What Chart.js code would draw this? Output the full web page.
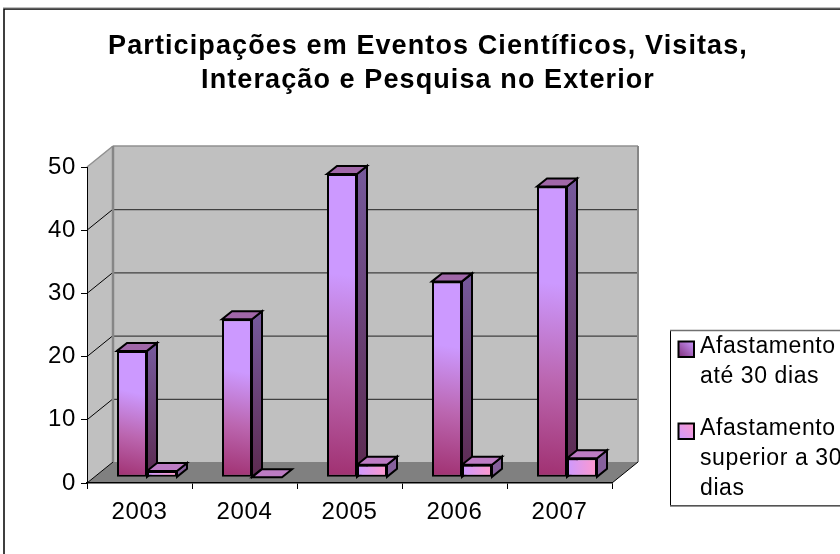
<!DOCTYPE html>
<html lang="pt">
<head>
<meta charset="utf-8">
<style>
html,body{margin:0;padding:0;width:840px;height:554px;overflow:hidden;background:#fff}
canvas{display:block}
</style>
<script src="https://cdn.jsdelivr.net/npm/chart.js@4/dist/chart.umd.js"></script>
</head>
<body>
<canvas id="c" width="856" height="554" style="width:856px;height:554px"></canvas>
<script>
const categories = ["2003","2004","2005","2006","2007"];
const seriesUp30 = [20,25,48,31,46];
const seriesOver30 = [1,0,2,2,3];
const seriesNames = ["Afastamento até 30 dias","Afastamento superior a 30 dias"];
const legendLines = [["Afastamento","até 30 dias"],["Afastamento","superior a 30","dias"]];
const titleLines = ["Participações em Eventos Científicos, Visitas,","Interação e Pesquisa no Exterior"];
const yTicks = [0,10,20,30,40,50];

const FONT = '"Liberation Sans", Arial, sans-serif';
const WALL_DX = 26, WALL_DY = 21, BAR_DX = 10, BAR_DY = 8, SHIFT_X = 7.5, SHIFT_Y = -5.7;

function poly(ctx, pts, fill, stroke, lw){
  ctx.beginPath();
  pts.forEach((p,i)=> i ? ctx.lineTo(p[0],p[1]) : ctx.moveTo(p[0],p[1]));
  ctx.closePath();
  if(fill){ctx.fillStyle=fill;ctx.fill();}
  if(stroke){ctx.strokeStyle=stroke;ctx.lineWidth=lw||1;ctx.lineJoin='miter';ctx.stroke();}
}
function line(ctx,x0,y0,x1,y1,color,lw){
  ctx.beginPath();ctx.moveTo(x0,y0);ctx.lineTo(x1,y1);ctx.strokeStyle=color;ctx.lineWidth=lw;ctx.stroke();
}
function grad(ctx,x0,y0,x1,y1,stops){
  const g=ctx.createLinearGradient(x0,y0,x1,y1);
  stops.forEach((s,i)=>g.addColorStop(i/(stops.length-1),s));
  return g;
}

const frontFill = (c)=>{
  if(c.type!=='data') return '#cc99ff';
  const ch=c.chart, y=ch.scales.y, x=ch.scales.x;
  if(!x||!y) return '#cc99ff';
  const cx=x.getPixelForValue(c.dataIndex), top=y.getPixelForValue(c.raw), bot=y.getPixelForValue(0);
  if(![cx,top,bot].every(Number.isFinite)) return '#cc99ff';
  if(c.datasetIndex===0) return grad(ch.ctx,cx-30,bot,cx,top,['#a03070','#bb66b0','#cc99ff','#cc99ff']);
  return grad(ch.ctx,cx,0,cx+30,0,['#cc99ff','#ff99cc']);
};

function drawBack(ctx,b,dark){
  const l=b.x-b.width/2, r=b.x+b.width/2, t=b.y, bs=b.base;
  if(bs-t>0.5){
    poly(ctx,[[r,t],[r+BAR_DX,t-BAR_DY],[r+BAR_DX,bs-BAR_DY],[r,bs]],
      dark?grad(ctx,0,bs,0,t,['#5c2a50','#75589a']):'#86609c','#000',2);
  }
  poly(ctx,[[l,t],[l+BAR_DX,t-BAR_DY],[r+BAR_DX,t-BAR_DY],[r,t]],
    dark?'#a067a8':'#bd7cc4','#000',2);
}

const scene3d = {
  id:'scene3d',
  beforeDraw(chart){
    const {ctx,scales:{x,y},chartArea:a}=chart;
    if(chart.titleBlock && !chart.titleBlock._spaced){
      const tb=chart.titleBlock, orig=tb.draw;
      tb.draw=function(){ctx.save();ctx.letterSpacing='1.1px';orig.call(tb);ctx.restore();};
      tb._spaced=true;
    }
    ctx.letterSpacing='0.6px';
    ctx.save();
    ctx.fillStyle='#fff';ctx.fillRect(0,0,chart.width,chart.height);
    // outer frame
    ctx.strokeStyle='#000';ctx.lineWidth=1.5;
    ctx.strokeRect(4,9,chart.width+20,chart.height+20);
    line(ctx,3,8,chart.width,8,'#808080',1);
    const L=a.left,R=x.right,T=y.getPixelForValue(50),B=y.getPixelForValue(0);
    const bL=L+WALL_DX,bR=R+WALL_DX,bT=T-WALL_DY,bB=B-WALL_DY;
    // back + side walls
    ctx.fillStyle='#c0c0c0';ctx.fillRect(bL,bT,bR-bL,bB-bT);
    poly(ctx,[[L,T],[bL,bT],[bL,bB],[L,B]],'#c0c0c0');
    poly(ctx,[[L,B],[bL,bB],[bR,bB],[R,B]],'#808080');
    // gridlines on the back wall and side wall
    yTicks.forEach(v=>{
      const py=y.getPixelForValue(v);
      if(v>0&&v<50) line(ctx,bL,py-WALL_DY+.5,bR,py-WALL_DY+.5,'#404040',1.3);
      if(v<50) line(ctx,L,py,bL,py-WALL_DY,'#000',1);
    });
    line(ctx,L,T,bL,bT,'#909090',1.5);
    line(ctx,bL,bT,bR,bT,'#909090',1.5);
    line(ctx,bL,bT,bL,bB,'#868686',2.5);
    line(ctx,bR,bT,bR,bB,'#868686',2);
    line(ctx,R,B,bR,bB,'#000',1);
    ctx.restore();
  },
  beforeDatasetsDraw(chart){
    const ctx=chart.ctx;
    ctx.save();
    ctx.translate(SHIFT_X,SHIFT_Y);
    // first series' side and top go first, so the second series' bars sit in front
    chart.getDatasetMeta(0).data.forEach(b=>drawBack(ctx,b,true));
  },
  beforeDatasetDraw(chart,args){
    if(args.index===1) args.meta.data.forEach(b=>drawBack(chart.ctx,b,false));
  },
  afterDatasetsDraw(chart){chart.ctx.restore();},
  afterDraw(chart){
    const ctx=chart.ctx;
    ctx.save();
    // legend
    ctx.fillStyle='#fff';ctx.fillRect(671,331,chart.width,175);
    ctx.strokeStyle='#000';ctx.lineWidth=1;
    ctx.strokeRect(670.5,330.5,chart.width,175);
    line(ctx,670,330.5,chart.width,330.5,'#707070',1.5);
    line(ctx,670,506,chart.width,506,'#707070',1.5);
    const rows=[[341,347],[423,429]];
    const swatch=[['#7f2f7a','#cc99ff'],['#cc99ff','#ff99cc']];
    ctx.font='23px '+FONT;ctx.textBaseline='middle';ctx.textAlign='left';
    ctx.letterSpacing='0.6px';
    legendLines.forEach((lines,k)=>{
      ctx.fillStyle=grad(ctx,678,rows[k][0]+16,694,rows[k][0],swatch[k]);
      ctx.fillRect(678.5,rows[k][0]+.5,15.5,15.5);
      ctx.strokeStyle='#000';ctx.lineWidth=2;ctx.strokeRect(678.5,rows[k][0]+.5,15.5,15.5);
      ctx.fillStyle='#000';
      lines.forEach((t,j)=>ctx.fillText(t,700,rows[k][1]+j*30));
    });
    ctx.restore();
  }
};

new Chart(document.getElementById('c').getContext('2d'),{
  type:'bar',
  data:{labels:categories,datasets:[
    {label:seriesNames[0],data:seriesUp30,backgroundColor:frontFill,borderColor:'#000',borderWidth:2,borderSkipped:false,clip:false},
    {label:seriesNames[1],data:seriesOver30,backgroundColor:frontFill,borderColor:'#000',borderWidth:2,borderSkipped:false,clip:false}
  ]},
  plugins:[scene3d],
  options:{
    responsive:false,animation:false,
    events:[],
    datasets:{bar:{categoryPercentage:60/105,barPercentage:1}},
    layout:{padding:{left:0,right:0,top:0,bottom:31}},
    plugins:{
      legend:{display:false},tooltip:{enabled:false},
      title:{display:true,text:titleLines,color:'#000',
        font:{family:FONT,size:27,weight:'bold',lineHeight:34/27},
        padding:{top:30,bottom:69}}
    },
    scales:{
      x:{offset:true,
        afterFit(s){s.height=40;},
        grid:{display:true,offset:true,drawOnChartArea:false,drawTicks:true,tickLength:6,color:'#000',lineWidth:1},
        border:{display:true,color:'#000',width:1.5},
        ticks:{color:'#000',font:{family:FONT,size:24},padding:9,maxRotation:0}},
      y:{min:0,max:50,
        afterBuildTicks(s){s.ticks=yTicks.map(v=>({value:v}));},
        afterFit(s){s.width=87;},
        grid:{drawOnChartArea:false,drawTicks:true,tickLength:6,color:'#000',lineWidth:1},
        border:{display:true,color:'#000',width:1},
        ticks:{color:'#000',font:{family:FONT,size:24},padding:5}},
      rightGap:{type:'linear',position:'right',display:true,
        afterFit(s){s.width=244;},
        grid:{display:false},border:{display:false},ticks:{display:false}}
    }
  }
});
</script>
</body>
</html>
